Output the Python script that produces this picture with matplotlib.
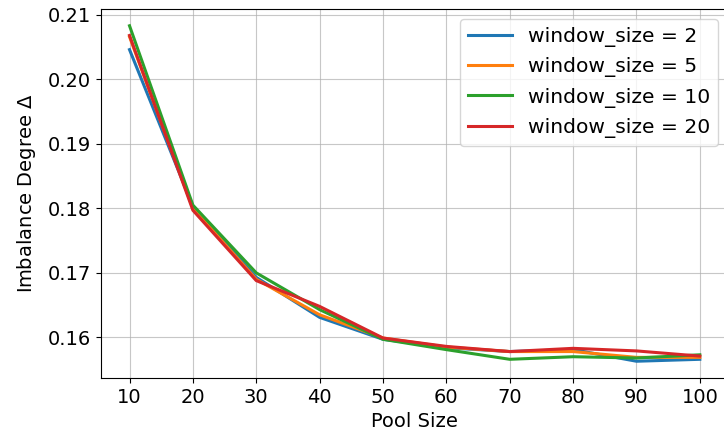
import matplotlib
matplotlib.use("Agg")
import matplotlib.pyplot as plt

# pool sizes on the x axis
pool_size = [10, 20, 30, 40, 50, 60, 70, 80, 90, 100]

# imbalance degree for each window size
ws_2 = [0.2046, 0.1803, 0.1693, 0.1631, 0.1597, 0.1584, 0.1578, 0.1581, 0.1563, 0.1566]
ws_5 = [0.2066, 0.1800, 0.1690, 0.1635, 0.1599, 0.1585, 0.1578, 0.1578, 0.1569, 0.1569]
ws_10 = [0.2083, 0.1805, 0.1700, 0.1643, 0.1597, 0.1581, 0.1566, 0.1570, 0.1568, 0.1573]
ws_20 = [0.2068, 0.1797, 0.1688, 0.1648, 0.1599, 0.1586, 0.1578, 0.1583, 0.1579, 0.1571]

labels = ["window_size = 2", "window_size = 5", "window_size = 10", "window_size = 20"]

plt.rcParams['font.size'] = 14

fig = plt.figure(figsize=(7.24, 4.43), dpi=100)
ax = fig.add_axes([0.1395, 0.1467, 0.8665, 0.833])

for series, lab in zip([ws_2, ws_5, ws_10, ws_20], labels):
    ax.plot(pool_size, series, linewidth=2.2, label=lab)

ax.set_xticks(pool_size)
ax.set_xlabel("Pool Size")
ax.set_ylabel("Imbalance Degree $\\Delta$", labelpad=7)
ax.grid(True, color="#b0b0b0", alpha=0.7, linewidth=0.8)
ax.legend(loc="upper right", fontsize=14.6, handlelength=2.15)

fig.savefig("out.png", dpi=100)
